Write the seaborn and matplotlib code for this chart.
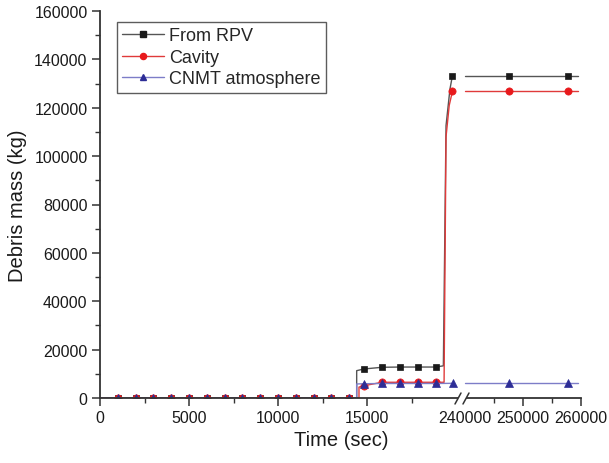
import numpy as np
import pandas as pd
import matplotlib
matplotlib.use("Agg")
import matplotlib.pyplot as plt
import matplotlib.ticker as mticker
from matplotlib.lines import Line2D
from matplotlib.patches import Rectangle
import seaborn as sns

sns.set_style("ticks")
plt.rcParams['font.family'] = ['Liberation Sans', 'DejaVu Sans']

# ---------------- data ----------------
series_names = ["From RPV", "Cavity", "CNMT atmosphere"]

zero_times = [0, 1000, 2000, 3000, 4000, 5000, 6000, 7000, 8000, 9000,
              10000, 11000, 12000, 13000, 14000]

# From RPV (left segment)
rpv_t = zero_times + [14420, 14420, 14830, 15850, 16850, 17850, 18850, 19290, 19440, 19660, 19800]
rpv_v = [0] * 15 + [0, 11300, 12000, 12700, 12800, 12800, 12800, 13300, 112600, 127700, 133300]
rpv_mark = list(range(1, 15)) + [17, 18, 19, 20, 21, 25]

# Cavity (left segment)
cav_t = zero_times + [14550, 14550, 14830, 15850, 16850, 17850, 18850, 19330, 19440, 19620, 19800]
cav_v = [0] * 15 + [0, 4500, 5100, 6500, 6500, 6500, 6500, 6500, 108000, 121000, 126800]
cav_mark = list(range(1, 15)) + [17, 18, 19, 20, 21, 25]

# CNMT atmosphere (left segment)
atm_t = zero_times + [14420, 14420, 14830, 15850, 16850, 17850, 18850, 19830]
atm_v = [0] * 15 + [0, 5800, 5900, 6000, 6000, 6000, 6000, 6070]
atm_mark = list(range(1, 15)) + [17, 18, 19, 20, 21, 22]

# right segment (after axis break)
right_t = [240000, 247600, 257700, 259400]
rpv_right = [133300, 133300, 133300, 133300]
cav_right = [126900, 126900, 126900, 126900]
atm_right = [6070, 6070, 6070, 6070]
right_mark = [1, 2]

y_ticks = [0, 20000, 40000, 60000, 80000, 100000, 120000, 140000, 160000]
x_ticks_left = [0, 5000, 10000, 15000]
x_ticks_right = [240000, 250000, 260000]

# ---------------- styles ----------------
styles = [
    dict(color="#555555", marker="s", mfc="#1a1a1a", mec="#1a1a1a", ms=5.0),
    dict(color="#e03a3a", marker="o", mfc="#e8191c", mec="#e8191c", ms=5.2),
    dict(color="#7d7dc8", marker="^", mfc="#2d2d96", mec="#2d2d96", ms=5.8),
]

W, H = 609, 464
fig = plt.figure(figsize=(W / 100, H / 100), dpi=100)

def fx(px):
    return px / W

def fy(py):
    return 1 - py / H

y_top, y_bot = 12, 399
xl0, xbrk, xr1 = 100, 461, 581
ax1 = fig.add_axes([fx(xl0), fy(y_bot), fx(xbrk - xl0), (y_bot - y_top) / H])
ax2 = fig.add_axes([fx(xbrk), fy(y_bot), fx(xr1 - xbrk), (y_bot - y_top) / H], sharey=ax1)

left_sets = [(rpv_t, rpv_v, rpv_mark), (cav_t, cav_v, cav_mark), (atm_t, atm_v, atm_mark)]
right_sets = [rpv_right, cav_right, atm_right]

for (t, v, mk), vr, st in zip(left_sets, right_sets, styles):
    df = pd.DataFrame({"t": t, "v": v})
    sns.lineplot(data=df, x="t", y="v", ax=ax1, sort=False, estimator=None,
                 color=st["color"], lw=1.0, marker=st["marker"], markevery=mk,
                 markersize=st["ms"], markerfacecolor=st["mfc"],
                 markeredgecolor=st["mec"], markeredgewidth=0.5, legend=False)
    dfr = pd.DataFrame({"t": right_t, "v": vr})
    sns.lineplot(data=dfr, x="t", y="v", ax=ax2, sort=False, estimator=None,
                 color=st["color"], lw=1.0, marker=st["marker"], markevery=right_mark,
                 markersize=st["ms"], markerfacecolor=st["mfc"],
                 markeredgecolor=st["mec"], markeredgewidth=0.5, legend=False)

ax1.set_xlim(0, (xbrk - xl0) / 17.8 * 1000)
ax2.set_xlim(260000 - (xr1 - xbrk) / 5.8 * 1000, 260000)
ax1.set_ylim(0, 160000)

spine_col = "#333333"
for ax in (ax1, ax2):
    ax.spines["top"].set_visible(False)
    ax.spines["right"].set_visible(False)
    ax.spines["bottom"].set_color(spine_col)
    ax.spines["bottom"].set_linewidth(1.3)
    ax.set_xlabel("")
    ax.set_ylabel("")
    ax.tick_params(axis="both", which="major", direction="out", length=6,
                   width=1.1, color=spine_col, labelsize=11.5, labelcolor="#1a1a1a", pad=3)
    ax.tick_params(axis="both", which="minor", direction="out", length=3.5,
                   width=1.0, color=spine_col)
ax1.spines["left"].set_color(spine_col)
ax1.spines["left"].set_linewidth(1.3)
ax2.spines["left"].set_visible(False)
ax2.tick_params(axis="y", which="both", left=False, labelleft=False)

ax1.set_yticks(y_ticks)
ax1.yaxis.set_minor_locator(mticker.MultipleLocator(10000))
ax1.yaxis.set_major_formatter(mticker.FuncFormatter(lambda v, p: f"{int(v)}"))
ax1.set_xticks(x_ticks_left)
ax1.xaxis.set_minor_locator(mticker.FixedLocator([2500, 7500, 12500, 17500]))
ax1.xaxis.set_major_formatter(mticker.FuncFormatter(lambda v, p: f"{int(v)}"))
ax2.set_xticks(x_ticks_right)
ax2.xaxis.set_minor_locator(mticker.FixedLocator([245000, 255000]))
ax2.xaxis.set_major_formatter(mticker.FuncFormatter(lambda v, p: f"{int(v)}"))
ax2.xaxis.get_major_ticks()[0].tick1line.set_visible(False)

ax1.set_ylabel("Debris mass (kg)", fontsize=14.5, color="#1a1a1a", labelpad=5)
fig.text(fx(341), fy(441), "Time (sec)", ha="center", va="center",
         fontsize=14.5, color="#1a1a1a")

# axis break marks
fig.add_artist(Rectangle((fx(458), fy(402)), fx(8), 6 / H, transform=fig.transFigure,
                         facecolor="white", edgecolor="none", zorder=5))
for x0, x1 in ((455, 461), (463, 469)):
    fig.add_artist(Line2D([fx(x0), fx(x1)], [fy(405), fy(394)], transform=fig.transFigure,
                          color=spine_col, lw=1.1, zorder=6))

# legend
handles = [Line2D([0], [0], color=st["color"], lw=1.0, marker=st["marker"],
                  markersize=st["ms"] - 0.8, markerfacecolor=st["mfc"],
                  markeredgecolor=st["mec"]) for st in styles]
leg = ax1.legend(handles, series_names, loc="upper left",
                 bbox_to_anchor=(fx(117), fy(23)), bbox_transform=fig.transFigure,
                 borderaxespad=0, fontsize=13, frameon=True, fancybox=False,
                 handlelength=2.3, handletextpad=0.3, labelspacing=0.25,
                 borderpad=0.3)
leg.get_frame().set_edgecolor("#333333")
leg.get_frame().set_linewidth(1.0)

fig.savefig("out.png", dpi=100)
